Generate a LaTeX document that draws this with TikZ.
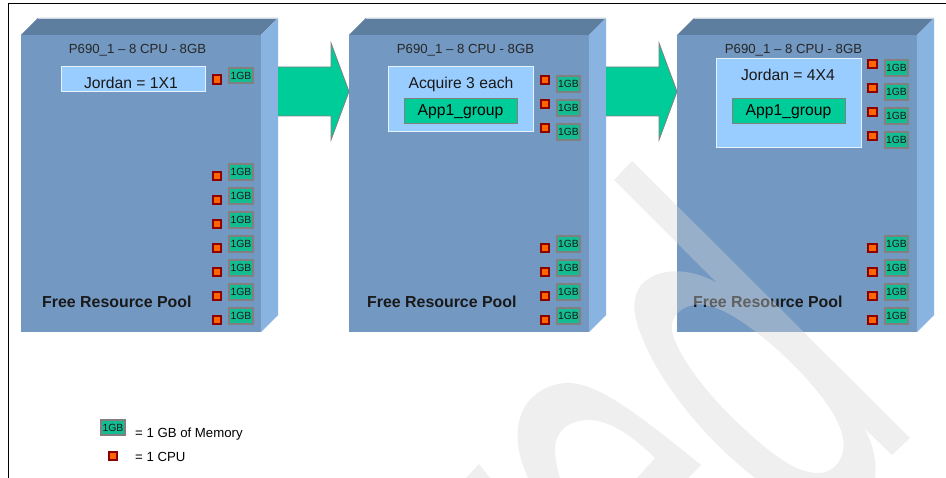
\documentclass[tikz,border=0pt]{standalone}
\usepackage{fontspec}
\setmainfont{Liberation Sans}

\definecolor{frontblue}{HTML}{7399C3}
\definecolor{topblue}{HTML}{5E7E9F}
\definecolor{sideblue}{HTML}{89B3E0}
\definecolor{lightblue}{HTML}{99CCFF}
\definecolor{seagreen}{HTML}{00CC99}
\definecolor{chipgreen}{HTML}{14BC92}
\definecolor{cpured}{HTML}{8B0000}
\definecolor{cpuorange}{HTML}{FF6600}

\tikzset{
cpuchip/.style={draw=cpured,fill=cpuorange,line width=2.2pt,minimum size=8.4pt,inner sep=0,outer sep=0},
gbchip/.style={draw=gray,fill=chipgreen,line width=1.6pt,minimum width=23.5pt,minimum height=15.5pt,
  inner sep=0,outer sep=0,font=\fontsize{10.4}{10.4}\selectfont,text=black!90},
groupbox/.style={draw=white!75!lightblue,fill=lightblue,line width=1pt,inner sep=0,outer sep=0},
appbox/.style={draw=gray,fill=seagreen,line width=1pt,minimum width=113pt,minimum height=25pt,
  inner sep=0,outer sep=0,font=\fontsize{15.7}{15.7}\selectfont},
bigarrow/.style={draw=gray,fill=seagreen,line width=.8pt},
title/.style={font=\fontsize{13.2}{13.2}\selectfont,text=black!85,anchor=base,inner sep=0},
grouptext/.style={font=\fontsize{15.7}{15.7}\selectfont,text=black!90,anchor=base,inner sep=0},
pool/.style={font=\bfseries\fontsize{15.9}{15.9}\selectfont,text=black!90,anchor=base west,inner sep=0},
legend/.style={font=\fontsize{13.2}{13.2}\selectfont,anchor=base west,inner sep=0}
}

\begin{document}
\begin{tikzpicture}[x=1pt,y=-1pt]
\useasboundingbox (0,0) rectangle (946,478);
\draw[line width=1.2pt] (8.5,478) -- (8.5,3.5) -- (946,3.5);

% blocks
\foreach \x/\n in {21/1,349/2,677/3} {
\fill[frontblue] (\x,35) rectangle +(240,297);
\fill[topblue] (\x,35) -- +(17,-17) -- +(257,-17) -- +(240,0) -- cycle;
\fill[sideblue] (\x+240,35) -- +(17,-17) -- +(17,280) -- +(0,297) -- cycle;
\draw[white!70!topblue,line width=.6pt] (\x+17,18) -- (\x+257,18);
\node[title] (title\n) at (\x+116.5,54) {P690\_1 -- 8 CPU - 8GB};
};

\node[pool] (pool1) at (42,307.5) {Free Resource Pool};
\node[pool] (pool2) at (367,307.5) {Free Resource Pool};
\node[pool] (pool3) at (693,307.5) {Free Resource Pool};

% arrows
\foreach \x in {278,606} {
\draw[bigarrow] (\x,67) -- (\x+53,67) -- (\x+53,43) -- (\x+71,91.5) -- (\x+53,140) -- (\x+53,116) -- (\x,116);
};

% groups
\node[groupbox,minimum width=144pt,minimum height=25pt] (jordan1) at (133,79.5) {};
\node[grouptext] (jordan1t) at (131,89) {Jordan = 1X1};

\node[groupbox,minimum width=145pt,minimum height=65pt] (acquire) at (460.5,99.5) {};
\node[grouptext] (acquiret) at (461,88.5) {Acquire 3 each};
\node[appbox] (app2) at (460.5,111.5) {App1\_group};

\node[groupbox,minimum width=145pt,minimum height=89pt] (jordan3) at (788.5,103.5) {};
\node[grouptext] (jordan3t) at (788,81) {Jordan = 4X4};
\node[appbox] (app3) at (788.5,111.5) {App1\_group};

% cpu and memory, upper rows
\node[cpuchip] (c1-0) at (217,79.5) {};
\node[gbchip] (g1-0) at (241,75.5) {1GB};
\foreach \y in {1,2,3} {
\node[cpuchip] (c2-\y) at (545,56+24*\y) {};
\node[gbchip] (g2-\y) at (568.5,60+24*\y) {1GB};
};
\foreach \y in {1,2,3,4} {
\node[cpuchip] (c3-\y) at (872.5,40+24*\y) {};
\node[gbchip] (g3-\y) at (896.5,44+24*\y) {1GB};
};

% cpu and memory, lower rows
\foreach \y in {0,...,6} {
\node[cpuchip] (p1-\y) at (217,176+24*\y) {};
\node[gbchip] (m1-\y) at (241,172+24*\y) {1GB};
};
\foreach \y in {0,...,3} {
\node[cpuchip] (p2-\y) at (545,248+24*\y) {};
\node[gbchip] (m2-\y) at (568.5,244+24*\y) {1GB};
\node[cpuchip] (p3-\y) at (872.5,248+24*\y) {};
\node[gbchip] (m3-\y) at (896.5,244+24*\y) {1GB};
};

% legend
\node[gbchip] (keygb) at (113,427.5) {1GB};
\node[legend] (keygbt) at (135,437.5) {= 1 GB of Memory};
\node[cpuchip] (keycpu) at (113,456) {};
\node[legend] (keycput) at (135,461.5) {= 1 CPU};

% watermark
\fill[black!16.5,opacity=.38,even odd rule]
(632,161) -- (910,438) -- (892,455) -- (864,428)
.. controls (872,442) and (877,458) .. (875,478) -- (755,478)
.. controls (700,435) and (665,385) .. (650,355)
.. controls (638,330) and (630,310) .. (637,292)
.. controls (645,272) and (680,262) .. (717,283)
-- (614,180) -- cycle
(693,305) .. controls (678,308) and (668,320) .. (673,335)
.. controls (680,358) and (705,392) .. (740,425)
.. controls (770,453) and (795,473) .. (818,473)
.. controls (835,473) and (846,458) .. (843,438)
.. controls (838,412) and (810,380) .. (780,352)
.. controls (750,325) and (715,300) .. (693,305) -- cycle;
\fill[black!16.5,opacity=.38,even odd rule]
(528,478) .. controls (518,455) and (514,435) .. (521,415)
.. controls (528,395) and (548,383) .. (568,383)
.. controls (595,383) and (630,407) .. (701,465)
-- (688,478) -- (637,478) -- (655,458)
.. controls (635,438) and (610,420) .. (589,420)
.. controls (570,420) and (556,430) .. (555,448)
.. controls (555,458) and (557,468) .. (560,478) -- cycle;
\fill[black!16.5,opacity=.38] (479,464) -- (490,478) -- (466,478) -- cycle;
\end{tikzpicture}
\end{document}
